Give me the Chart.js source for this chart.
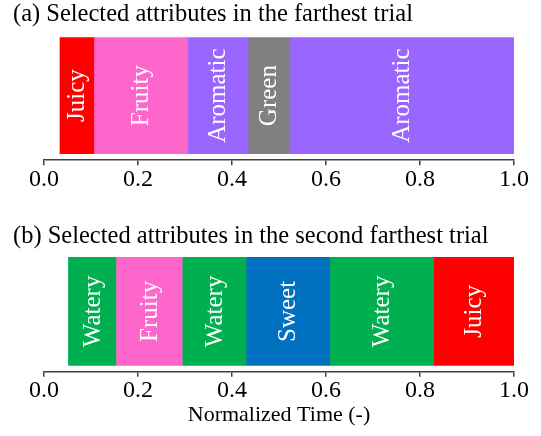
<!DOCTYPE html>
<html>
<head>
<meta charset="utf-8">
<script src="https://cdn.jsdelivr.net/npm/chart.js@4"></script>
<style>
  body { margin: 0; background: #fff; }
  #wrap { position: relative; width: 541px; height: 436px; }
  canvas { position: absolute; left: 0; }
  #chartA { top: 0; }
  #chartB { top: 210px; }
</style>
</head>
<body>
<div id="wrap">
  <canvas id="chartA" width="541" height="200"></canvas>
  <canvas id="chartB" width="541" height="226"></canvas>
</div>
<script>
// segment labels and boundaries (normalized time)
const attrsA = ['Juicy', 'Fruity', 'Aromatic', 'Green', 'Aromatic'];
const boundsA = [0.034, 0.106, 0.306, 0.434, 0.523, 1.0];
const attrsB = ['Watery', 'Fruity', 'Watery', 'Sweet', 'Watery', 'Juicy'];
const boundsB = [0.052, 0.153, 0.294, 0.430, 0.608, 0.829, 1.0];
const tickValues = [0.0, 0.2, 0.4, 0.6, 0.8, 1.0];

const colors = {
    Juicy: '#FF0000',
    Fruity: '#FF66CC',
    Aromatic: '#9966FF',
    Green: '#808080',
    Watery: '#00B050',
    Sweet: '#0070C0'
};

const serif = "'Liberation Serif', 'Times New Roman', serif";

// draws the attribute name rotated inside each bar
const barText = {
    id: 'barText',
    afterDatasetsDraw(chart) {
        const ctx = chart.ctx;
        ctx.save();
        ctx.fillStyle = '#fff';
        ctx.font = '25px ' + serif;
        ctx.textAlign = 'center';
        ctx.textBaseline = 'middle';
        chart.data.datasets.forEach((ds, i) => {
            const el = chart.getDatasetMeta(i).data[0];
            ctx.save();
            ctx.translate((el.x + el.base) / 2, el.y);
            ctx.rotate(-Math.PI / 2);
            ctx.fillText(ds.label, 0, 1);
            ctx.restore();
        });
        ctx.restore();
    }
};

const panelTitle = {
    id: 'panelTitle',
    afterDraw(chart, args, opts) {
        const ctx = chart.ctx;
        ctx.save();
        ctx.fillStyle = '#000';
        ctx.font = '24.5px ' + serif;
        ctx.textAlign = 'left';
        ctx.textBaseline = 'middle';
        ctx.fillText(opts.text, 13, opts.y);
        ctx.restore();
    }
};

const makeChart = (id, attrs, bounds, title, thickness, pad, showXTitle) => {
    const datasets = attrs.map((a, i) => ({
        label: a,
        data: [[bounds[i], bounds[i + 1]]],
        backgroundColor: colors[a],
        borderWidth: 0,
        grouped: false,
        barThickness: thickness
    }));
    return new Chart(document.getElementById(id), {
        type: 'bar',
        data: { labels: ['trial'], datasets: datasets },
        plugins: [barText, panelTitle],
        options: {
            indexAxis: 'y',
            responsive: false,
            animation: false,
            layout: { padding: pad },
            plugins: {
                legend: { display: false },
                tooltip: { enabled: false },
                panelTitle: { text: title.text, y: title.y }
            },
            scales: {
                x: {
                    type: 'linear',
                    min: 0,
                    max: 1,
                    afterBuildTicks: (axis) => {
                        axis.ticks = tickValues.map(v => ({ value: v }));
                    },
                    ticks: {
                        color: '#000',
                        padding: 0,
                        font: { family: serif, size: 24 },
                        callback: (v) => Number(v).toFixed(1)
                    },
                    grid: {
                        drawOnChartArea: false,
                        drawTicks: true,
                        tickLength: 5,
                        color: '#404040',
                        lineWidth: 1.5
                    },
                    border: { display: true, color: '#404040', width: 1.5 },
                    title: {
                        display: showXTitle,
                        text: 'Normalized Time (-)',
                        color: '#000',
                        font: { family: serif, size: 22 },
                        padding: { top: -4, bottom: 0 }
                    }
                },
                y: { display: false }
            }
        }
    });
};

makeChart('chartA', attrsA, boundsA,
    { text: '(a) Selected attributes in the farthest trial', y: 15 },
    116, { top: 31, left: 44, right: 27, bottom: 6 }, false);
makeChart('chartB', attrsB, boundsB,
    { text: '(b) Selected attributes in the second farthest trial', y: 27 },
    108, { top: 41, left: 44, right: 27, bottom: 8 }, true);
</script>
</body>
</html>
